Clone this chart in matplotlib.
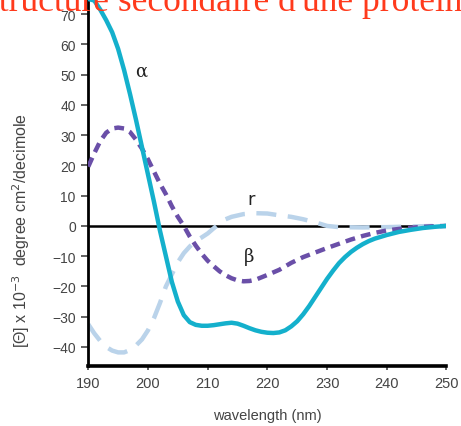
import numpy as np
import matplotlib.pyplot as plt

# wavelength grids (nm) and ellipticity readings (x 10^-3)
wl_alpha = [190, 191, 192, 193, 194, 195, 196, 197, 198, 199, 200, 201, 202, 203,
            204, 205, 206, 207, 208, 209, 210, 211, 212, 213, 214, 215, 216, 217,
            218, 219, 220, 221, 222, 223, 224, 225, 226, 227, 228, 229, 230, 231,
            232, 233, 234, 235, 236, 237, 238, 240, 242, 244, 246, 248, 250]
alpha = [75, 74.5, 71.5, 68, 64, 58.5, 51.5, 43.5, 35, 26, 17, 8, -1.5, -10,
         -18.5, -25, -29.5, -31.8, -32.7, -33, -33, -32.8, -32.5, -32.2, -32, -32.3, -33, -33.8,
         -34.5, -35, -35.3, -35.4, -35.2, -34.5, -33.2, -31.5, -29.2, -26.5, -23.5, -20.5, -17.5, -14.8,
         -12.3, -10.3, -8.6, -7.2, -6, -5, -4.2, -3, -2, -1.3, -0.7, -0.3, 0]

wl_beta = [190, 191, 192, 193, 194, 195, 196, 197, 198, 199, 200, 201, 202, 203,
           204, 205, 206, 207, 208, 209, 210, 211, 212, 213, 214, 215, 216, 217,
           218, 219, 220, 222, 224, 226, 228, 230, 232, 234, 236, 238, 240, 242,
           244, 246, 248, 250]
beta = [19.6, 24, 28, 30.8, 32.2, 32.5, 32.2, 31, 28.5, 25.5, 22, 18, 14, 10.5,
        6.5, 3, 0, -3.5, -6.5, -9.2, -11.5, -13.3, -15, -16.3, -17.3, -18, -18.3, -18.2,
        -17.8, -17, -16.2, -14.5, -12.2, -10.3, -8.8, -7.3, -5.9, -4.5, -3.3, -2.3, -1.5, -1,
        -0.6, -0.3, -0.1, 0]

wl_random = [190, 191, 192, 193, 194, 195, 196, 197, 198, 199, 200, 201, 202, 203,
             204, 205, 206, 207, 208, 209, 210, 211, 212, 213, 214, 216, 218, 220,
             222, 224, 226, 228, 230, 232, 236, 240, 244, 248, 250]
random_coil = [-32.5, -35.5, -38, -40, -41.2, -41.8, -41.8, -41, -39.5, -37.5, -34.5, -30.5, -25.5, -20,
               -16, -12, -9, -6.8, -5, -3.8, -2.5, -0.8, 0.8, 2.2, 3, 3.9, 4.2, 4.1,
               3.5, 3, 2.2, 1.2, 0, -0.4, -0.5, -0.4, -0.2, 0, 0]

xticks = [190, 200, 210, 220, 230, 240, 250]
yticks = [-40, -30, -20, -10, 0, 10, 20, 30, 40, 50, 60, 70]

plt.rcParams['font.family'] = ['Liberation Sans', 'DejaVu Sans']

fig = plt.figure(figsize=(4.61, 4.27), dpi=100)
ax = fig.add_axes([0.1915, 0.1405, 0.777, 0.8595])

ax.axhline(0, color='black', linewidth=1.8, zorder=1)

ax.plot(wl_random, random_coil, color='#bad3ea', linewidth=3.2,
        dashes=(4.5, 2.6), zorder=2)
ax.plot(wl_beta, beta, color='#6a4fa8', linewidth=3.2,
        dashes=(2.2, 1.4), zorder=3)
ax.plot(wl_alpha, alpha, color='#14b0cc', linewidth=3.2,
        solid_capstyle='round', solid_joinstyle='round', zorder=4)

ax.text(198.9, 51.3, 'α', fontsize=13, family='DejaVu Serif', color='#222222',
        ha='center', va='center')
ax.text(217.2, 8.8, 'r', fontsize=13, family='DejaVu Sans', color='#222222',
        ha='center', va='center')
ax.text(216.9, -9.9, 'β', fontsize=13, family='DejaVu Serif', color='#222222',
        ha='center', va='center')

ax.set_xlim(190, 250)
ax.set_ylim(-46.3, 75)
ax.set_xticks(xticks)
ax.set_yticks(yticks)

for s in ['top', 'right']:
    ax.spines[s].set_visible(False)
ax.spines['left'].set_linewidth(2)
ax.spines['bottom'].set_linewidth(2.6)

ax.tick_params(axis='y', direction='out', length=5, width=1.3, color='#555555',
               labelsize=10, labelcolor='#444444', pad=4)
ax.tick_params(axis='x', direction='out', length=3, width=1.3, color='#555555',
               labelsize=10.5, labelcolor='#444444', pad=4)

ax.set_xlabel('wavelength (nm)', fontsize=10.5, color='#444444', labelpad=13)
ax.set_ylabel('[Θ] x 10$^{-3}$  degree cm$^2$/decimole', fontsize=11.5,
              color='#444444')
ax.yaxis.set_label_coords(-0.157, 0.373)

fig.text(-0.046, 1 - 11 / 427, "Structure secondaire d'une protéine",
         fontsize=25.5, family='Liberation Serif', color='#ff3a1c',
         ha='left', va='baseline')

fig.savefig('out.png', dpi=100)
